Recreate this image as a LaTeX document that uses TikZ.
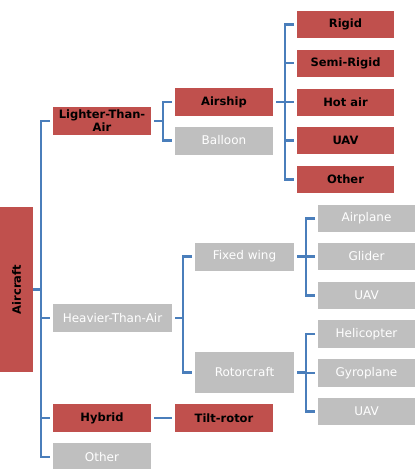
\documentclass[tikz,border=0pt]{standalone}
\usepackage{fontspec}
\setmainfont{DejaVu Sans}
\definecolor{boxred}{HTML}{C0504D}
\definecolor{boxgrey}{HTML}{BFBFBF}
\definecolor{linkblue}{HTML}{4A7EBB}
\begin{document}
\begin{tikzpicture}[x=1pt,y=-1pt,
  base/.style={inner sep=0pt,outer sep=0pt,align=center},
  redbox/.style={base,fill=boxred,text=black,font=\fontsize{11.5}{13}\selectfont\bfseries},
  greybox/.style={base,fill=boxgrey,text=white,font=\fontsize{12}{13}\selectfont},
  link/.style={draw=linkblue,line width=2.8pt},
]
\useasboundingbox (0,0) rectangle (415,469);
% level 0
\node[redbox,minimum width=33pt,minimum height=165pt] (air) at (16.5,289.5) {};
\node[rotate=90,font=\fontsize{11.5}{12}\selectfont\bfseries] (airtxt) at (air.center) {Aircraft};
% level 1
\node[redbox,minimum width=98pt,minimum height=28pt] (lta) at (102,121) {Lighter-Than-\\Air};
\node[greybox,minimum width=119pt,minimum height=28pt] (hta) at (112.5,318) {Heavier-Than-Air};
\node[redbox,minimum width=98pt,minimum height=28pt] (hyb) at (102,418) {Hybrid};
\node[greybox,minimum width=98pt,minimum height=28pt] (oth) at (102,457) {Other};
% level 2
\node[redbox,minimum width=98pt,minimum height=28pt] (ship) at (224,102) {Airship};
\node[greybox,minimum width=98pt,minimum height=28pt] (ball) at (224,140.5) {Balloon};
\node[redbox,minimum width=98pt,minimum height=28pt] (tilt) at (224,418) {Tilt-rotor};
\node[greybox,minimum width=99pt,minimum height=28pt] (fix) at (244.5,256.5) {Fixed wing};
\node[greybox,minimum width=99pt,minimum height=41pt] (rot) at (244.5,372.5) {Rotorcraft};
% level 3 airship
\node[redbox,minimum width=97pt,minimum height=27pt] (rig) at (345.5,24.5) {Rigid};
\node[redbox,minimum width=97pt,minimum height=27pt] (semi) at (345.5,63) {Semi-Rigid};
\node[redbox,minimum width=97pt,minimum height=27pt] (hot) at (345.5,102) {Hot air};
\node[redbox,minimum width=97pt,minimum height=27pt] (uava) at (345.5,140.5) {UAV};
\node[redbox,minimum width=97pt,minimum height=27pt] (otha) at (345.5,179.5) {Other};
% level 3 fixed wing / rotorcraft
\node[greybox,minimum width=97pt,minimum height=27pt] (plane) at (366.5,218.5) {Airplane};
\node[greybox,minimum width=97pt,minimum height=27pt] (glid) at (366.5,256.5) {Glider};
\node[greybox,minimum width=97pt,minimum height=27pt] (uavb) at (366.5,295.5) {UAV};
\node[greybox,minimum width=97pt,minimum height=28pt] (heli) at (366.5,334) {Helicopter};
\node[greybox,minimum width=97pt,minimum height=28pt] (gyro) at (366.5,373) {Gyroplane};
\node[greybox,minimum width=97pt,minimum height=27pt] (uavc) at (366.5,411.5) {UAV};
% bracket columns
\coordinate (b0) at (41,0);
\coordinate (b1) at (163,0);
\coordinate (b2) at (183,0);
\coordinate (b3) at (285,0);
\coordinate (b4) at (306,0);
% aircraft bracket
\draw[link] (air.east) -- (air.east -| b0);
\draw[link] ([xshift=-3pt]lta.west) -- (lta.west -| b0) -- (oth.west -| b0) -- ([xshift=-3pt]oth.west);
\draw[link] (hta.west -| b0) -- ([xshift=-3pt]hta.west);
\draw[link] (hyb.west -| b0) -- ([xshift=-3pt]hyb.west);
% lighter-than-air bracket
\draw[link] ([xshift=3pt]lta.east) -- (lta.east -| b1);
\draw[link] ([xshift=-3pt]ship.west) -- (ship.west -| b1) -- (ball.west -| b1) -- ([xshift=-3pt]ball.west);
% airship bracket
\draw[link] ([xshift=3pt]ship.east) -- (ship.east -| b3);
\draw[link] ([xshift=-3pt]rig.west) -- (rig.west -| b3) -- (otha.west -| b3) -- ([xshift=-3pt]otha.west);
\draw[link] (semi.west -| b3) -- ([xshift=-3pt]semi.west);
\draw[link] (hot.west -| b3) -- ([xshift=-3pt]hot.west);
\draw[link] (uava.west -| b3) -- ([xshift=-3pt]uava.west);
% heavier-than-air bracket
\draw[link] ([xshift=3pt]hta.east) -- (hta.east -| b2);
\draw[link] ([xshift=-3pt]fix.west) -- (fix.west -| b2) -- (rot.west -| b2) -- ([xshift=-3pt]rot.west);
% fixed wing bracket
\draw[link] ([xshift=3pt]fix.east) -- (fix.east -| b4);
\draw[link] ([xshift=-3pt]plane.west) -- (plane.west -| b4) -- (uavb.west -| b4) -- ([xshift=-3pt]uavb.west);
\draw[link] (glid.west -| b4) -- ([xshift=-3pt]glid.west);
% rotorcraft bracket
\draw[link] ([xshift=3pt]rot.east) -- (rot.east -| b4);
\draw[link] ([xshift=-3pt]heli.west) -- (heli.west -| b4) -- (uavc.west -| b4) -- ([xshift=-3pt]uavc.west);
\draw[link] (gyro.west -| b4) -- ([xshift=-3pt]gyro.west);
% hybrid
\draw[link] ([xshift=3pt]hyb.east) -- ([xshift=-3pt]tilt.west);
\end{tikzpicture}
\end{document}
